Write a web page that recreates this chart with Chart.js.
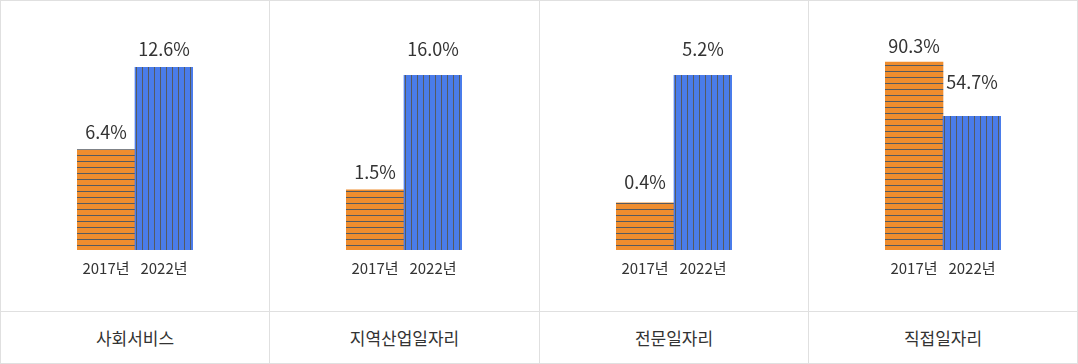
<!DOCTYPE html>
<html lang="ko">
<head>
<meta charset="utf-8">
<script src="https://cdn.jsdelivr.net/npm/chart.js@4"></script>
<style>
  body { margin: 0; background: #fff; font-family: "Noto Sans CJK KR", "Noto Sans", sans-serif; }
  #wrap { position: relative; width: 1078px; height: 364px; overflow: hidden; }
  .vline { position: absolute; top: 0; width: 1px; height: 364px; background: #e0e0e0; }
  .hline { position: absolute; left: 0; width: 1078px; height: 1px; background: #e0e0e0; }
  .panel { position: absolute; top: 1px; }
  .cat { position: absolute; top: 312px; height: 51px; line-height: 51px; text-align: center;
         font-size: 17px; color: #333; }
</style>
</head>
<body>
<div id="wrap"></div>
<script>
// data
const categories = ['사회서비스', '지역산업일자리', '전문일자리', '직접일자리'];
const years = ['2017년', '2022년'];
const values2017 = [6.4, 1.5, 0.4, 90.3];
const values2022 = [12.6, 16.0, 5.2, 54.7];

// layout of each panel (own scale per panel, like the original)
const panelLeft = [1, 270, 540, 809];
const panelWidth = [268, 269, 268, 268];
const axisMin = [-1.161, -6.132, -1.376, -32.98];
const axisMax = [16.08, 22.87, 7.241, 117.33];
const labelGaps = [[11, 11], [11, 19], [14, 19], [9, 27]];

const orange = '#ef8d2e';
const blue = '#4a7cea';
const stripe = '#555a60';

function makePattern(color, vertical) {
    const c = document.createElement('canvas');
    c.width = 6;
    c.height = 6;
    const g = c.getContext('2d');
    g.fillStyle = color;
    g.fillRect(0, 0, 6, 6);
    g.fillStyle = stripe;
    if (vertical) g.fillRect(3, 0, 1, 6);
    else g.fillRect(0, 4, 6, 1);
    return g.createPattern(c, 'repeat');
}
const orangePattern = makePattern(orange, false);
const bluePattern = makePattern(blue, true);

const wrap = document.getElementById('wrap');

// grid lines
[0, 269, 539, 808, 1077].forEach(x => {
    const d = document.createElement('div');
    d.className = 'vline';
    d.style.left = x + 'px';
    wrap.appendChild(d);
});
[0, 311, 363].forEach(y => {
    const d = document.createElement('div');
    d.className = 'hline';
    d.style.top = y + 'px';
    wrap.appendChild(d);
});

const valueLabels = {
    id: 'valueLabels',
    afterDatasetsDraw(chart, args, opts) {
        const ctx = chart.ctx;
        const meta = chart.getDatasetMeta(0);
        const data = chart.data.datasets[0].data;
        ctx.save();
        ctx.font = '18px "Noto Sans CJK KR"';
        ctx.fillStyle = '#333';
        ctx.textAlign = 'center';
        ctx.textBaseline = 'alphabetic';
        meta.data.forEach((bar, i) => {
            ctx.fillText(data[i].toFixed(1) + '%', bar.x, bar.y - opts.gaps[i]);
        });
        ctx.restore();
    }
};

categories.forEach((cat, p) => {
    const canvas = document.createElement('canvas');
    canvas.className = 'panel';
    canvas.width = panelWidth[p];
    canvas.height = 310;
    canvas.style.left = panelLeft[p] + 'px';
    wrap.appendChild(canvas);

    const label = document.createElement('div');
    label.className = 'cat';
    label.style.left = panelLeft[p] + 'px';
    label.style.width = panelWidth[p] + 'px';
    label.textContent = cat;
    wrap.appendChild(label);

    new Chart(canvas, {
        type: 'bar',
        data: {
            labels: years,
            datasets: [{
                data: [values2017[p], values2022[p]],
                backgroundColor: [orangePattern, bluePattern],
                borderWidth: 0,
                base: axisMin[p],
                barPercentage: 1,
                categoryPercentage: 1
            }]
        },
        options: {
            responsive: false,
            animation: false,
            events: [],
            layout: {
                padding: { left: 76, right: panelWidth[p] - 192, top: 20, bottom: 25 }
            },
            plugins: {
                legend: { display: false },
                tooltip: { enabled: false },
                valueLabels: { gaps: labelGaps[p] }
            },
            scales: {
                x: {
                    grid: { display: false, drawTicks: false },
                    border: { display: false },
                    ticks: {
                        padding: 9,
                        color: '#333',
                        font: { family: '"Noto Sans CJK KR"', size: 15 }
                    }
                },
                y: {
                    display: false,
                    min: axisMin[p],
                    max: axisMax[p]
                }
            }
        },
        plugins: [valueLabels]
    });
});
</script>
</body>
</html>
